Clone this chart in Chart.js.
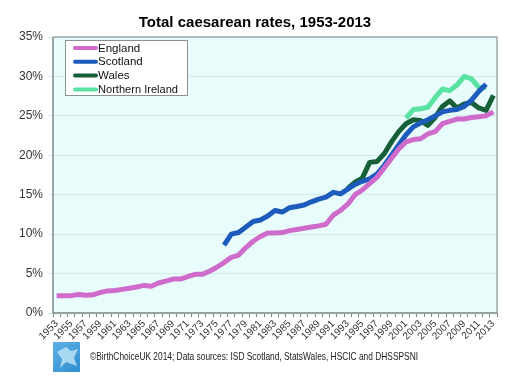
<!DOCTYPE html>
<html>
<head>
<meta charset="utf-8">
<script src="https://cdn.jsdelivr.net/npm/chart.js@4/dist/chart.umd.min.js"></script>
<style>
  html, body { margin: 0; padding: 0; background: #ffffff; }
  #wrap { position: relative; width: 520px; height: 380px; }
  canvas { display: block; }
</style>
</head>
<body>
<div id="wrap"><canvas id="c" width="520" height="380"></canvas></div>
<script>
const titleText = 'Total caesarean rates, 1953-2013';
const footerText = '\u00A9BirthChoiceUK 2014; Data sources: ISD Scotland, StatsWales, HSCIC and DHSSPSNI';

const years = ['1953','1954','1955','1956','1957','1958','1959','1960','1961','1962',
  '1963','1964','1965','1966','1967','1968','1969','1970','1971','1972',
  '1973','1974','1975','1976','1977','1978','1979','1980','1981','1982',
  '1983','1984','1985','1986','1987','1988','1989','1990','1991','1992',
  '1993','1994','1995','1996','1997','1998','1999','2000','2001','2002',
  '2003','2004','2005','2006','2007','2008','2009','2010','2011','2012','2013'];

const seriesNames = ['England', 'Scotland', 'Wales', 'Northern Ireland'];

const england = [2.2,2.2,2.2,2.35,2.25,2.3,2.6,2.8,2.85,3.0,
  3.15,3.3,3.5,3.4,3.8,4.05,4.3,4.3,4.6,4.9,
  4.9,5.3,5.8,6.4,7.05,7.35,8.3,9.1,9.7,10.15,
  10.15,10.2,10.45,10.6,10.75,10.9,11.05,11.25,12.4,13.0,
  13.8,15.0,15.6,16.4,17.2,18.4,19.6,20.8,21.7,22.0,
  22.1,22.7,23.0,24.0,24.3,24.6,24.6,24.8,24.9,25.0,25.5];

const scotland = [null,null,null,null,null,null,null,null,null,null,
  null,null,null,null,null,null,null,null,null,null,
  null,null,null,8.6,10.0,10.2,10.9,11.6,11.8,12.3,
  13.0,12.8,13.35,13.5,13.7,14.1,14.45,14.7,15.3,15.1,
  15.7,16.3,16.7,17.0,17.6,18.7,20.0,21.3,22.6,23.6,
  24.1,24.5,25.0,25.5,25.7,25.8,26.2,27.0,28.1,29.0,null];

const wales = [null,null,null,null,null,null,null,null,null,null,
  null,null,null,null,null,null,null,null,null,null,
  null,null,null,null,null,null,null,null,null,null,
  null,null,null,null,null,null,null,null,null,null,
  15.8,16.6,17.1,19.1,19.2,20.2,21.7,23.0,24.0,24.5,
  24.4,23.8,24.8,26.2,26.9,26.0,26.5,26.7,26.0,25.7,27.6];

const northernIreland = [null,null,null,null,null,null,null,null,null,null,
  null,null,null,null,null,null,null,null,null,null,
  null,null,null,null,null,null,null,null,null,null,
  null,null,null,null,null,null,null,null,null,null,
  null,null,null,null,null,null,null,null,24.7,25.8,
  25.9,26.1,27.3,28.4,28.2,28.9,30.0,29.7,28.6,28.6,null];

const colors = ['#cf6ccb', '#1d5cbc', '#175f38', '#5ae2a3'];

const decor = {
  id: 'decor',
  beforeDraw(chart) {
    const {ctx, chartArea: a} = chart;
    ctx.save();
    ctx.fillStyle = '#e9fcfc';
    ctx.fillRect(a.left, a.top, a.right - a.left, a.bottom - a.top);
    ctx.restore();
  },
  afterDatasetsDraw(chart) {
    const {ctx, chartArea: a} = chart;
    ctx.save();
    // plot border
    ctx.strokeStyle = '#a0a8a8';
    ctx.lineWidth = 1.5;
    ctx.beginPath();
    ctx.moveTo(a.left, a.top); ctx.lineTo(a.right, a.top); ctx.lineTo(a.right, a.bottom);
    ctx.stroke();
    ctx.strokeStyle = '#7f8585';
    ctx.lineWidth = 1.5;
    ctx.beginPath();
    ctx.moveTo(a.left, a.top); ctx.lineTo(a.left, a.bottom); ctx.lineTo(a.right, a.bottom);
    ctx.stroke();

    // legend box
    ctx.fillStyle = '#ffffff';
    ctx.fillRect(65, 40, 122, 55);
    ctx.strokeStyle = '#8a9090';
    ctx.lineWidth = 1;
    ctx.strokeRect(65.5, 40.5, 122, 55);
    ctx.font = '11.5px "Liberation Sans", Arial, sans-serif';
    ctx.textBaseline = 'middle';
    ctx.textAlign = 'left';
    chart.data.datasets.forEach((ds, i) => {
      const y = 48 + i * 13.8;
      ctx.strokeStyle = ds.borderColor;
      ctx.lineWidth = 4;
      ctx.lineCap = 'round';
      ctx.beginPath();
      ctx.moveTo(75, y); ctx.lineTo(96, y);
      ctx.stroke();
      ctx.fillStyle = '#111111';
      ctx.fillText(ds.label, 98, y + 0.5, 80);
    });

    // title
    ctx.fillStyle = '#000000';
    ctx.font = 'bold 15px "Liberation Sans", Arial, sans-serif';
    ctx.textAlign = 'center';
    ctx.fillText(titleText, 255, 23);

    // footer logo
    const g = ctx.createLinearGradient(53, 342, 80, 372);
    g.addColorStop(0, '#5fb0e6');
    g.addColorStop(1, '#2f8fd0');
    ctx.fillStyle = g;
    ctx.fillRect(53, 342, 27, 30);
    ctx.fillStyle = 'rgba(200,235,250,0.75)';
    ctx.beginPath();
    ctx.moveTo(57, 352); ctx.lineTo(66, 347); ctx.lineTo(71, 351); ctx.lineTo(78, 349);
    ctx.lineTo(74, 358); ctx.lineTo(77, 366); ctx.lineTo(66, 362); ctx.lineTo(60, 368);
    ctx.lineTo(62, 359); ctx.closePath();
    ctx.fill();

    // footer text
    ctx.fillStyle = '#222222';
    ctx.font = '11px "Liberation Sans", Arial, sans-serif';
    ctx.textAlign = 'left';
    ctx.fillText(footerText, 90, 357, 328);
    ctx.restore();
  }
};

new Chart(document.getElementById('c'), {
  type: 'line',
  data: {
    labels: years,
    datasets: [
      { label: seriesNames[0], data: england, borderColor: colors[0] },
      { label: seriesNames[1], data: scotland, borderColor: colors[1] },
      { label: seriesNames[2], data: wales, borderColor: colors[2] },
      { label: seriesNames[3], data: northernIreland, borderColor: colors[3] }
    ].map(d => Object.assign(d, {
      borderWidth: 5, pointRadius: 0, pointHoverRadius: 0, tension: 0,
      fill: false, spanGaps: false, borderJoinStyle: 'round', borderCapStyle: 'butt'
    }))
  },
  options: {
    responsive: false,
    animation: false,
    events: [],
    layout: { padding: { top: 37, right: 23, left: 0, bottom: 0 } },
    plugins: { legend: { display: false }, title: { display: false }, tooltip: { enabled: false } },
    scales: {
      x: {
        type: 'category',
        offset: true,
        afterFit(scale) { scale.height = 67; },
        grid: { offset: true, drawOnChartArea: false, drawTicks: true, tickLength: 4, color: '#7f8585' },
        border: { display: false },
        ticks: {
          autoSkip: false, minRotation: 45, maxRotation: 45, padding: 1,
          color: '#333333',
          font: { size: 10, family: '"Liberation Sans", Arial, sans-serif' },
          callback(v, i) { return i % 2 === 0 ? years[i] : ''; }
        }
      },
      y: {
        min: 0, max: 35,
        afterFit(scale) { scale.width = 53; },
        grid: { color: '#d6eaea', tickLength: 5, drawTicks: true, lineWidth: 1 },
        border: { display: false },
        ticks: {
          stepSize: 5, padding: 5, color: '#333333',
          font: { size: 12, family: '"Liberation Sans", Arial, sans-serif' },
          callback(v) { return v + '%'; }
        }
      }
    }
  },
  plugins: [decor]
});
</script>
</body>
</html>
